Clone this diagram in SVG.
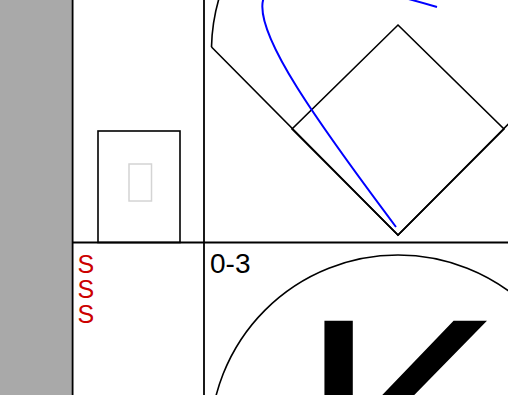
<svg xmlns="http://www.w3.org/2000/svg" width="508" height="395" viewBox="0 0 508 395">
<style>
.grid{stroke:#000;stroke-width:1.8;fill:none}
.field{stroke:#000;stroke-width:1.6;fill:none}
.txt{font-family:"Liberation Sans",Arial,sans-serif}
.red{fill:#cc0000;font-size:25px}
</style>
<rect x="0" y="0" width="72" height="395" fill="#a9a9a9"/>
<g id="grid">
<line class="grid" x1="72.6" y1="0" x2="72.6" y2="395"/>
<line class="grid" x1="204" y1="0" x2="204" y2="395"/>
<line class="grid" x1="72" y1="242.5" x2="508" y2="242.5"/>
</g>
<g id="count-box">
<rect x="98" y="131" width="82" height="111.5" fill="none" stroke="#000" stroke-width="1.6"/>
<rect x="129" y="164" width="22.5" height="37" fill="none" stroke="#d4d4d4" stroke-width="1.5"/>
</g>
<g id="field">
<polygon class="field" points="398,25 504,129 398,235 292,129"/>
<polyline class="field" points="211.5,47 398,235 585,47"/>
<path class="field" d="M211.5,47 A186.7,186.7 0 0 1 230,-30"/>
</g>
<g id="connectors">
<path d="M396,227 C225,-1 197,-63 437,7" fill="none" stroke="#0000ff" stroke-width="2"/>
</g>
<g id="marks">
<text class="txt red" x="77.5" y="272.8">S</text>
<text class="txt red" x="77.5" y="297.8">S</text>
<text class="txt red" x="77.5" y="322.8">S</text>
</g>
<g id="result">
<text class="txt" x="210" y="273" font-size="28">0-3</text>
<circle cx="398" cy="443" r="188" fill="none" stroke="#000" stroke-width="1.6"/>
<text class="txt" x="299.5" y="530" font-size="304">K</text>
</g>
</svg>
